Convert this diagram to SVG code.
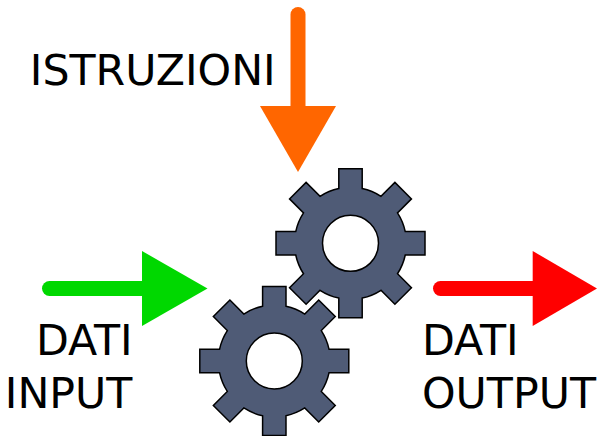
<svg xmlns="http://www.w3.org/2000/svg" xmlns:xlink="http://www.w3.org/1999/xlink" width="597" height="436" viewBox="0 0 597 436">
<style>
.label{font-family:"DejaVu Sans",sans-serif;font-size:42.7px;fill:#000}
.gear{fill:#4f5b76;stroke:#000;stroke-width:1.5;fill-rule:evenodd;stroke-linejoin:miter}
.shaft{fill:none;stroke-width:15;stroke-linecap:round}
</style>
<defs>
<path id="gearShape" d="M-11.7-54.76V-74.5H11.7V-54.76A56 56 0 0 1 30.45-46.99L44.41-60.95L60.95-44.41L46.99-30.45A56 56 0 0 1 54.76-11.7H74.5V11.7H54.76A56 56 0 0 1 46.99 30.45L60.95 44.41L44.41 60.95L30.45 46.99A56 56 0 0 1 11.7 54.76V74.5H-11.7V54.76A56 56 0 0 1 -30.45 46.99L-44.41 60.95L-60.95 44.41L-46.99 30.45A56 56 0 0 1 -54.76 11.7H-74.5V-11.7H-54.76A56 56 0 0 1 -46.99-30.45L-60.95-44.41L-44.41-60.95L-30.45-46.99A56 56 0 0 1 -11.7-54.76ZM28 0A28 28 0 1 0 -28 0A28 28 0 1 0 28 0Z"/>
</defs>
<g id="gear-top"><use href="#gearShape" class="gear" transform="translate(350.5 243.3)"/></g>
<g id="gear-bottom"><use href="#gearShape" class="gear" transform="translate(274.3 361)"/></g>
<g id="connectors">
<path class="shaft" stroke="#ff6600" d="M298 14.500V110"/>
<path fill="#ff6600" d="M260 106H336L298 172Z"/>
<path class="shaft" stroke="#00d800" d="M49.500 288.500H146"/>
<path fill="#00d800" d="M142 251V326L207.500 288.500Z"/>
<path class="shaft" stroke="#ff0000" d="M440.500 288.500H537"/>
<path fill="#ff0000" d="M532.700 251V326L597 288.500Z"/>
</g>
<g id="label-istruzioni"><text class="label" x="29.800" y="85">ISTRUZIONI</text></g>
<g id="label-input"><text class="label" x="36" y="355">DATI</text><text class="label" x="4.800" y="407.500">INPUT</text></g>
<g id="label-output"><text class="label" x="422" y="355">DATI</text><text class="label" x="422" y="407.500">OUTPUT</text></g>
</svg>
